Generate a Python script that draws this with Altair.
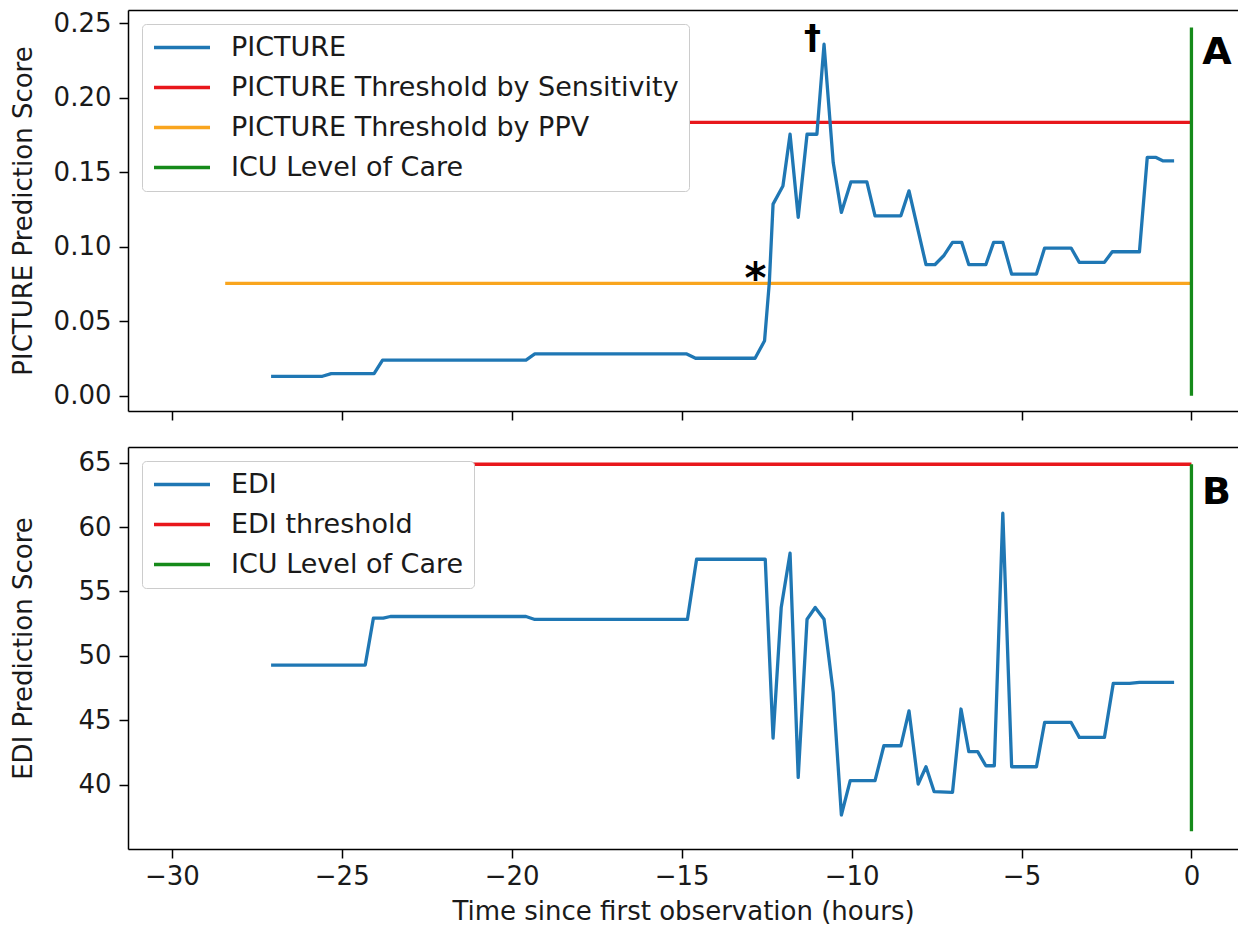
import altair as alt
import pandas as pd

FONT = "DejaVu Sans"

# ---------------- data ----------------
# Panel A: PICTURE prediction score
pic_hours = [-27.08, -25.57, -25.31, -24.05, -23.80, -19.58, -19.32, -14.85, -14.59,
             -12.84, -12.56, -12.42, -12.31, -12.02, -11.81, -11.57, -11.31, -11.02,
             -10.81, -10.54, -10.30, -10.02, -9.55, -9.31, -8.55, -8.31, -7.81, -7.55,
             -7.29, -7.03, -6.76, -6.55, -6.05, -5.82, -5.55, -5.29, -4.56, -4.32,
             -3.54, -3.30, -2.56, -2.33, -1.53, -1.30, -1.04, -0.83, -0.51]
pic_score = [0.0130, 0.0130, 0.0148, 0.0148, 0.0239, 0.0239, 0.0280, 0.0280, 0.0251,
             0.0251, 0.0369, 0.0761, 0.1286, 0.1408, 0.1755, 0.1197, 0.1755, 0.1755,
             0.2359, 0.1565, 0.1230, 0.1435, 0.1435, 0.1207, 0.1207, 0.1375, 0.0879, 0.0879,
             0.0939, 0.1029, 0.1029, 0.0879, 0.0879, 0.1029, 0.1029, 0.0816, 0.0816, 0.0991,
             0.0991, 0.0895, 0.0895, 0.0966, 0.0966, 0.1599, 0.1599, 0.1576, 0.1576]

# Panel B: EDI prediction score
edi_hours = [-27.08, -24.31, -24.07, -23.78, -23.57, -19.58, -19.32, -14.83, -14.56,
             -12.54, -12.31, -12.07, -11.81, -11.57, -11.31, -11.07, -10.81, -10.54,
             -10.30, -10.04, -9.31, -9.05, -8.55, -8.31, -8.04, -7.81, -7.57, -7.03,
             -6.78, -6.55, -6.29, -6.05, -5.80, -5.55, -5.29, -4.56, -4.32, -3.54,
             -3.30, -2.56, -2.30, -1.82, -1.53, -0.51]
edi_score = [49.29, 49.29, 52.93, 52.93, 53.06, 53.06, 52.83, 52.83, 57.50,
             57.50, 43.63, 53.76, 57.97, 40.58, 52.85, 53.76, 52.85, 47.17,
             37.66, 40.32, 40.32, 43.03, 43.03, 45.74, 40.06, 41.40, 39.47, 39.42,
             45.88, 42.57, 42.57, 41.48, 41.48, 61.07, 41.40, 41.40, 44.84, 44.84,
             43.68, 43.68, 47.87, 47.87, 47.95, 47.95]

# thresholds (horizontal lines)
thr_start = -28.43
thr_end = 0.0
pic_thr_names = ["PICTURE Threshold by Sensitivity", "PICTURE Threshold by PPV"]
pic_thr_values = [0.1834, 0.0754]
edi_thr_names = ["EDI threshold"]
edi_thr_values = [64.87]

# ICU level of care (vertical line at t = 0)
icu_x = 0.0
pic_icu_range = [0.0, 0.2471]
edi_icu_range = [36.4, 64.87]

# annotations
star_pos = [-12.83, 0.0690]
dagger_pos = [-11.15, 0.2330]
panel_letters = ["A", "B"]
letter_pos = [[0.75, 0.2225], [0.74, 61.77]]

# legends / colours
pic_names = ["PICTURE", "PICTURE Threshold by Sensitivity", "PICTURE Threshold by PPV", "ICU Level of Care"]
pic_colors = ["#1f77b4", "#e8171c", "#f9a51e", "#168a1a"]
edi_names = ["EDI", "EDI threshold", "ICU Level of Care"]
edi_colors = ["#1f77b4", "#e8171c", "#168a1a"]

x_ticks = [-30, -25, -20, -15, -10, -5, 0]
pic_ticks = [0.0, 0.05, 0.10, 0.15, 0.20, 0.25]
edi_ticks = [40, 45, 50, 55, 60, 65]

X_DOMAIN = [-31.29, 1.37]
PIC_DOMAIN = [-0.0103, 0.2589]
EDI_DOMAIN = [35.02, 66.21]

LW = 3.3

# ---------------- helpers ----------------

def legend():
    return alt.Legend(
        title=None, orient="top-left", offset=14,
        symbolType="stroke", symbolSize=3136, symbolStrokeWidth=LW,
        labelFont=FONT, labelFontSize=27, labelColor="#1a1a1a", labelLimit=0,
        labelOffset=19, clipHeight=27, rowPadding=12, padding=10,
        fillColor="white", strokeColor="#cccccc", cornerRadius=4,
    )


def panel(name, hours, score, thr_names, thr_values, icu_range, names, colors,
          y_domain, y_ticks, y_fmt, y_title, bottom, height, texts):
    line_df = pd.DataFrame({"hours": hours, "score": score, "series": name})
    thr_df = pd.DataFrame({"series": thr_names, "y": thr_values,
                           "x0": thr_start, "x1": thr_end})
    icu_df = pd.DataFrame({"series": ["ICU Level of Care"], "x": [icu_x],
                           "y0": [icu_range[0]], "y1": [icu_range[1]]})

    color = alt.Color("series:N", scale=alt.Scale(domain=names, range=colors), legend=legend())
    xs = alt.Scale(domain=X_DOMAIN, nice=False, zero=False)
    ys = alt.Scale(domain=y_domain, nice=False, zero=False)
    y_axis = alt.Axis(values=y_ticks, format=y_fmt, title=y_title, titleX=-92, grid=False)
    if bottom:
        x_axis = alt.Axis(values=x_ticks, format="d", title="Time since first observation (hours)",
                          grid=False, labelPadding=5, titlePadding=9)
    else:
        x_axis = alt.Axis(values=x_ticks, labels=False, title=None, grid=False)
    top_axis = alt.Axis(orient="top", labels=False, ticks=False, title=None, grid=False, domain=True)

    thr = alt.Chart(thr_df).mark_rule(strokeWidth=LW).encode(
        x=alt.X("x0:Q", scale=xs, axis=top_axis), x2="x1:Q",
        y=alt.Y("y:Q", scale=ys, axis=y_axis), color=color)
    line = alt.Chart(line_df).mark_line(strokeWidth=LW, strokeJoin="round").encode(
        x=alt.X("hours:Q", scale=xs, axis=x_axis),
        y=alt.Y("score:Q", scale=ys, axis=y_axis), color=color)
    icu = alt.Chart(icu_df).mark_rule(strokeWidth=LW).encode(
        x=alt.X("x:Q", scale=xs, axis=None),
        y=alt.Y("y0:Q", scale=ys, axis=y_axis), y2="y1:Q", color=color)
    layers = [thr, line, icu]
    for df, size in texts:
        layers.append(alt.Chart(df).mark_text(font=FONT, fontWeight="bold", fontSize=size,
                                              color="black", baseline="alphabetic", align="center").encode(
            x=alt.X("x:Q", scale=xs, axis=None),
            y=alt.Y("y:Q", scale=ys, axis=y_axis), text="label:N"))
    return alt.layer(*layers).resolve_axis(x="independent").properties(width=1110, height=height)


star_df = pd.DataFrame({"label": ["*"], "x": [star_pos[0]], "y": [star_pos[1]]})
dagger_df = pd.DataFrame({"label": ["\u2020"], "x": [dagger_pos[0]], "y": [dagger_pos[1]]})
letA_df = pd.DataFrame({"label": [panel_letters[0]], "x": [letter_pos[0][0]], "y": [letter_pos[0][1]]})
letB_df = pd.DataFrame({"label": [panel_letters[1]], "x": [letter_pos[1][0]], "y": [letter_pos[1][1]]})

top = panel("PICTURE", pic_hours, pic_score, pic_thr_names, pic_thr_values, pic_icu_range,
            pic_names, pic_colors, PIC_DOMAIN, pic_ticks, ".2f", "PICTURE Prediction Score",
            False, 401, [(star_df, 42), (dagger_df, 34), (letA_df, 38)])
bot = panel("EDI", edi_hours, edi_score, edi_thr_names, edi_thr_values, edi_icu_range,
            edi_names, edi_colors, EDI_DOMAIN, edi_ticks, "d", "EDI Prediction Score",
            True, 402, [(letB_df, 38)])

chart = alt.vconcat(top, bot, spacing=26).resolve_scale(color="independent").properties(
    padding={"left": 9, "top": 10, "right": 0, "bottom": 0}, background="white"
).configure_view(stroke=None).configure_axis(
    domainColor="black", domainWidth=1.5, tickColor="black", tickWidth=1.5, tickSize=9,
    labelFont=FONT, labelFontSize=26, labelColor="#1a1a1a", labelPadding=8,
    titleFont=FONT, titleFontSize=26, titleFontWeight="normal", titleColor="#1a1a1a",
)

chart.save("out.html", embed_options={"renderer": "svg", "actions": False})
